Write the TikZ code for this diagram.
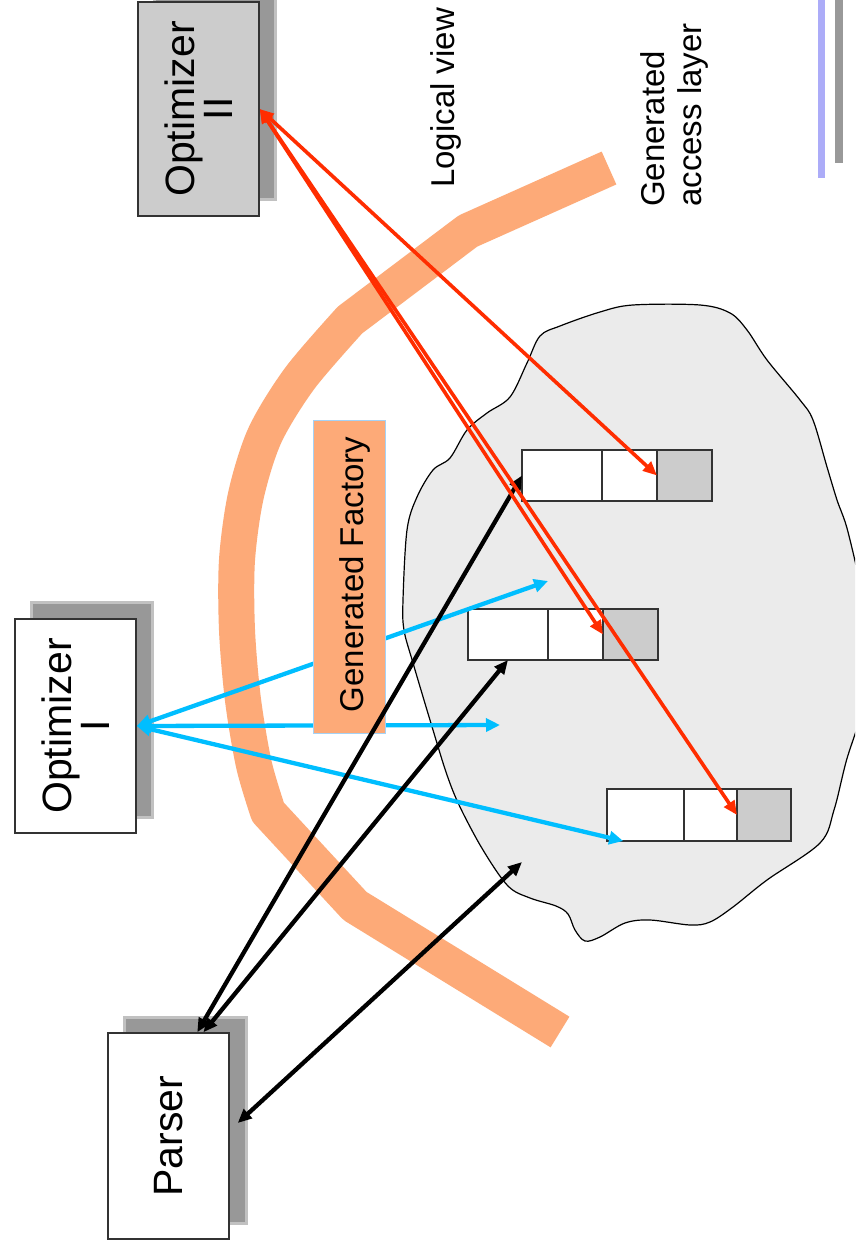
\documentclass[tikz,border=0pt]{standalone}
\usepackage{fontspec}
\setmainfont{Liberation Sans}
\usetikzlibrary{arrows.meta,calc}
\definecolor{peach}{RGB}{253,170,120}
\definecolor{redl}{RGB}{255,45,0}
\definecolor{cyanl}{RGB}{0,190,255}
\definecolor{blobfill}{RGB}{235,235,235}
\definecolor{cellgray}{RGB}{204,204,204}
\definecolor{shadowgray}{RGB}{152,152,152}
\definecolor{boxedge}{RGB}{51,51,51}
\definecolor{decoblue}{RGB}{172,172,248}
\definecolor{decogray}{RGB}{153,153,153}
\definecolor{factedge}{RGB}{165,210,245}
\begin{document}
\begin{tikzpicture}[x=1pt,y=-1pt,
  procbox/.style={draw=boxedge, line width=1.5pt, rotate=90, inner sep=0pt, align=center,
    minimum height=121pt, font=\fontsize{41}{38}\selectfont},
  shadowbox/.style={fill=shadowgray, draw=shadowgray!60, line width=3pt},
  cell/.style={draw=boxedge, line width=1.5pt, fill=white, minimum height=51pt, inner sep=0pt, outer sep=0pt},
  graycell/.style={cell, fill=cellgray},
  redarrow/.style={draw=redl, line width=3.6pt, arrows={Triangle[length=14pt,width=12pt]-Triangle[length=14pt,width=12pt]}},
  cyanarrow/.style={draw=cyanl, line width=4.3pt, arrows={Triangle[length=14pt,width=13pt]-Triangle[length=14pt,width=13pt]}},
  blackarrow/.style={draw=black, line width=4.3pt, arrows={Triangle[length=14pt,width=12pt]-Triangle[length=14pt,width=12pt]}},
  label33/.style={rotate=90, inner sep=0pt, font=\fontsize{33}{37}\selectfont}
]
\clip (0,0) rectangle (855,1249);
\fill[white] (0,0) rectangle (855,1249);

% decorative slide bars
\fill[decoblue] (818,0) rectangle (825,178);
\fill[decogray] (835,0) rectangle (843,163);

% blob
\draw[fill=blobfill, line width=1.2pt] plot[smooth cycle, tension=0.55] coordinates {
 (467,430) (487,413) (510,397) (527,363) (540,336) (560,326) (600,312) (633,305)
 (700,305) (730,313) (747,330) (767,360) (800,400) (813,420) (827,467) (837,500)
 (848,532) (862,600) (866,690) (846,762) (834,810) (820,843) (767,880) (733,907)
 (710,922) (690,925) (650,920) (625,923) (600,937) (585,941) (575,930) (568,914)
 (556,906) (530,898) (508,886) (483,850) (460,807) (447,775) (433,730) (413,663)
 (404,630) (403,600) (407,530) (417,497) (433,470) (450,458)};

% orange band
\draw[peach, line width=36pt, line join=round] (609,168) -- (468,231) -- (350,320)
  -- plot[smooth] coordinates {(350,320) (300,378) (265,435) (246,495) (237,560) (237,630) (243,700) (254,765) (268,812)}
  -- (355,906) -- (560,1032);

% shadows
\draw[shadowbox] (154,-14) rectangle (275,200);
\draw[shadowbox] (31,602) rectangle (152,817);
\draw[shadowbox] (124,1017) rectangle (246,1223);

% boxes
\node[procbox, fill=cellgray, minimum width=214pt] (opt2) at (198.5,109) {Optimizer\\II};
\node[procbox, fill=white, minimum width=214pt] (opt1) at (75.5,726) {Optimizer\\I};
\node[procbox, fill=white, minimum width=206pt] (parser) at (168.5,1136) {Parser};

% records
\node[cell, minimum width=80pt] (A1) at (562,475.5) {};
\node[cell, minimum width=55pt] (A2) at (629.5,475.5) {};
\node[graycell, minimum width=55pt] (A3) at (684.5,475.5) {};
\node[cell, minimum width=80pt] (B1) at (508,634.5) {};
\node[cell, minimum width=55pt] (B2) at (575.5,634.5) {};
\node[graycell, minimum width=55pt] (B3) at (630.5,634.5) {};
\node[cell, minimum width=77pt, minimum height=52pt] (C1) at (645.5,815) {};
\node[cell, minimum width=53pt, minimum height=52pt] (C2) at (710.5,815) {};
\node[graycell, minimum width=54pt, minimum height=52pt] (C3) at (764,815) {};

% cyan arrows (behind factory box)
\coordinate (cy1) at (548,581);
\coordinate (cy2) at (500,725);
\draw[cyanarrow] (opt1.south) -- (cy1);
\draw[cyanarrow] (opt1.south) -- (cy2);
\draw[cyanarrow] (opt1.south) -- ($(C1.south west)!0.21!(C1.south east)$);

% generated factory
\node[rotate=90, fill=peach, draw=factedge, line width=0.8pt, minimum width=313pt, minimum height=72pt, inner sep=0pt] (factory) at (349,576.5) {};
\node[label33, anchor=base] (factlabel) at (363,574.5) {Generated Factory};

% labels
\node[label33, anchor=base west] (logical) at (454,188) {Logical view};
\node[label33, anchor=north west, align=left] (gal) at (640,207) {Generated\\access layer};

% black arrows
\coordinate (bk3) at (522,862);
\draw[blackarrow] ($(parser.north east)!0.735!(parser.south east)$) -- (A1.west);
\draw[blackarrow] ($(parser.north east)!0.785!(parser.south east)$) -- (B1.south);
\draw[blackarrow] ($(parser.south)+(8,-13)$) -- (bk3);

% red arrows
\draw[redarrow] (opt2.south) -- (A3.west);
\draw[redarrow] (opt2.south) -- (B3.west);
\draw[redarrow] (opt2.south) -- (C3.west);
\end{tikzpicture}
\end{document}
